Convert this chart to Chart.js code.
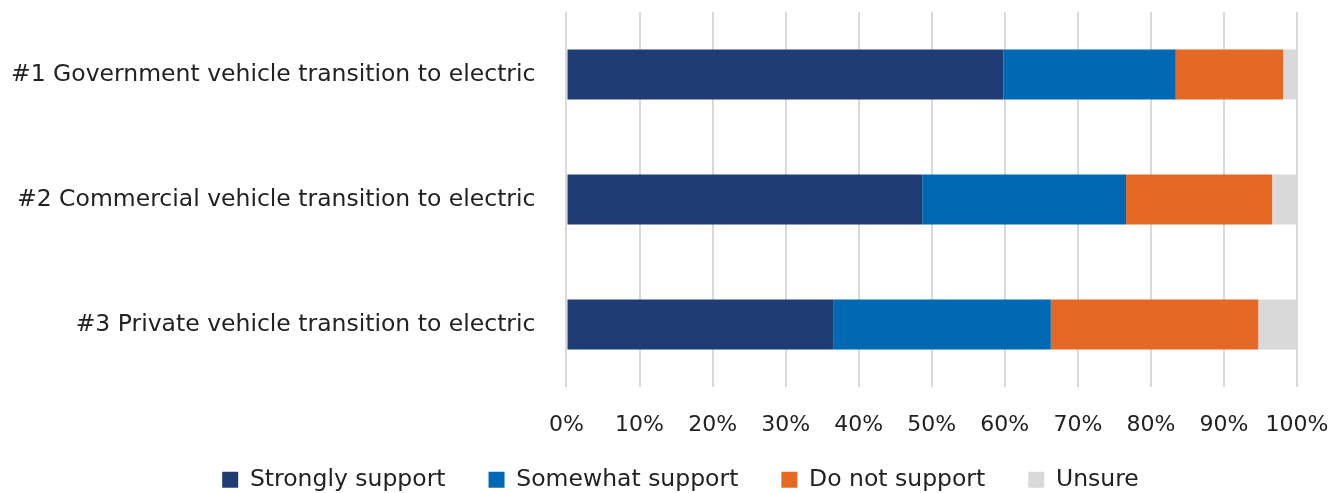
<!DOCTYPE html>
<html>
<head>
<meta charset="utf-8">
<script src="https://cdn.jsdelivr.net/npm/chart.js@4/dist/chart.umd.min.js"></script>
<style>
  html, body { margin: 0; padding: 0; background: #fff; }
  #wrap { width: 1339px; height: 493px; }
</style>
</head>
<body>
<div id="wrap"><canvas id="chart"></canvas></div>
<script>
const categories = [
  "#1 Government vehicle transition to electric",
  "#2 Commercial vehicle transition to electric",
  "#3 Private vehicle transition to electric"
];
const seriesNames = ["Strongly support", "Somewhat support", "Do not support", "Unsure"];
const strongly = [59.8, 48.7, 36.5];
const somewhat = [23.6, 27.9, 29.8];
const notSupport = [14.7, 20.0, 28.4];
const unsure = [1.9, 3.4, 5.3];
const colors = ["#203c74", "#0169b3", "#e66825", "#d9d9d9"];

const fontFamily = "'DejaVu Sans', sans-serif";

// keep legend items spread out without the legend eating the plot height,
// then nudge the legend row into place
const legendPlace = {
  id: "legendPlace",
  beforeInit(chart) {
    const fit = chart.legend.fit;
    chart.legend.fit = function () {
      fit.bind(chart.legend)();
      this.height = 54;
    };
  },
  afterLayout(chart) {
    const lg = chart.legend;
    lg.top -= 14;
    lg.left += 42;
    lg.right += 42;
  }
};

const ctx = document.getElementById("chart").getContext("2d");
const chart = new Chart(ctx, {
  type: "bar",
  data: {
    labels: categories,
    datasets: [strongly, somewhat, notSupport, unsure].map(function (vals, i) {
      return {
        label: seriesNames[i],
        data: vals,
        backgroundColor: colors[i],
        borderWidth: 0,
        barPercentage: 0.4,
        categoryPercentage: 1
      };
    })
  },
  options: {
    indexAxis: "y",
    responsive: true,
    maintainAspectRatio: false,
    animation: false,
    layout: { padding: { top: 12, right: 42, left: -20, bottom: 0 } },
    scales: {
      x: {
        stacked: true,
        min: 0,
        max: 100,
        border: { display: false },
        grid: { color: "#d9d9d9", lineWidth: 2, drawTicks: false },
        ticks: {
          stepSize: 10,
          padding: 25,
          color: "#222",
          font: { family: fontFamily, size: 22 },
          callback: function (v) { return v + "%"; }
        },
        afterFit: function (scale) {
          scale.paddingLeft = 0;
          scale.paddingRight = 0;
          scale.height = 52;
        }
      },
      y: {
        stacked: true,
        border: { display: false },
        grid: { display: false, drawTicks: false },
        ticks: {
          padding: 31,
          color: "#222",
          font: { family: fontFamily, size: 23.5 }
        },
        afterFit: function (scale) {
          scale.paddingTop = 0;
          scale.paddingBottom = 0;
        }
      }
    },
    plugins: {
      legend: {
        position: "bottom",
        labels: {
          boxWidth: 16,
          boxHeight: 16,
          padding: 43,
          color: "#222",
          font: { family: fontFamily, size: 23.5 }
        }
      },
      tooltip: { enabled: false }
    }
  },
  plugins: [legendPlace]
});
</script>
</body>
</html>
